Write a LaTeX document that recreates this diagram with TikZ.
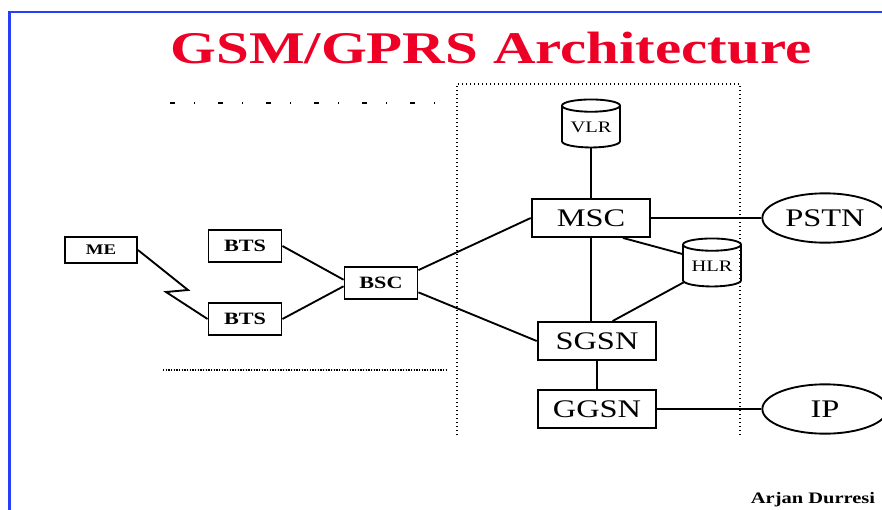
\documentclass[tikz,border=0pt]{standalone}
\usepackage{fontspec}
\setmainfont{Liberation Serif}
\usetikzlibrary{shapes.geometric}
\definecolor{titlered}{RGB}{238,0,38}
\definecolor{frameblue}{RGB}{40,64,245}
\newcommand{\wide}[1]{\scalebox{1.28}[1]{#1}}

\begin{document}
\begin{tikzpicture}[x=0.75pt, y=-0.75pt, line width=1.4pt,
  small/.style={draw, rectangle, inner sep=0pt, minimum width=54.75pt, minimum height=24pt,
    font=\fontsize{13}{14}\selectfont\bfseries},
  big/.style={draw, rectangle, inner sep=0pt, minimum width=89pt, minimum height=28.5pt,
    font=\fontsize{19}{20}\selectfont},
  db/.style={draw, cylinder, shape border rotate=90, aspect=0.3, inner sep=0pt,
    minimum width=43.5pt, minimum height=36pt, font=\fontsize{12}{12}\selectfont},
  net/.style={draw, ellipse, inner sep=0pt, minimum width=94pt, minimum height=37pt,
    font=\fontsize{19}{20}\selectfont},
  edge/.style={dotted, line width=1pt}]
  \useasboundingbox (0,0) rectangle (882,510);
  \clip (0,0) rectangle (882,510);
  \draw[frameblue, line width=2pt] (9.5,520) -- (9.5,12) -- (890,12);
  \node[text=titlered, font=\fontsize{34}{36}\selectfont\bfseries] (title) at (491,48) {\scalebox{1.3}[1]{GSM/GPRS Architecture}};

  % area borders
  \draw[line width=1pt, dash pattern=on 3.4pt off 14.6pt on 1.1pt off 16.9pt] (170,103) -- (440,103);
  \draw[line width=1pt, densely dotted] (163,370) -- (447,370);
  \draw[edge] (457,435) -- (457,84) -- (740,84) -- (740,435);

  % radio part
  \node[small, minimum width=54pt, minimum height=19.5pt, font=\fontsize{11}{12}\selectfont\bfseries] (me) at (101,250) {\wide{ME}};
  \node[small] (bts1) at (245,246) {\wide{BTS}};
  \node[small] (bts2) at (245,319) {\wide{BTS}};
  \node[small] (bsc) at (381,283) {\wide{BSC}};

  % core
  \node[big] (msc) at (591,218) {\wide{MSC}};
  \node[big] (sgsn) at (597,341) {\wide{SGSN}};
  \node[big] (ggsn) at (597,409) {\wide{GGSN}};
  \node[db] (vlr) at (591,127) {\wide{VLR}};
  \node[db] (hlr) at (712,266) {\wide{HLR}};
  \node[net] (pstn) at (825,218) {\wide{PSTN}};
  \node[net] (ip) at (825,409) {\wide{IP}};

  \coordinate (bolt1) at (188,290);
  \coordinate (bolt2) at (166,292);
  \draw (me.east) -- (bolt1) -- (bolt2) -- (bts2.west);
  \draw (bts1.east) -- (bsc.175);
  \draw (bts2.east) -- (bsc.185);
  \draw (bsc.19) -- (msc.west);
  \draw (bsc.-14) -- (sgsn.west);
  \draw (vlr.south) -- (msc.north);
  \draw (msc.south) -- (msc.south |- sgsn.north);
  \draw (msc.-32) -- (hlr.158);
  \draw (sgsn.52) -- (hlr.210);
  \draw (sgsn.south) -- (ggsn.north);
  \draw (msc.east) -- (pstn.west);
  \draw (ggsn.east |- ip.west) -- (ip.west);

  \node[font=\fontsize{12}{12}\selectfont\bfseries, anchor=base west, inner sep=0pt] (author) at (750,503) {\wide{Arjan Durresi}};
\end{tikzpicture}
\end{document}
